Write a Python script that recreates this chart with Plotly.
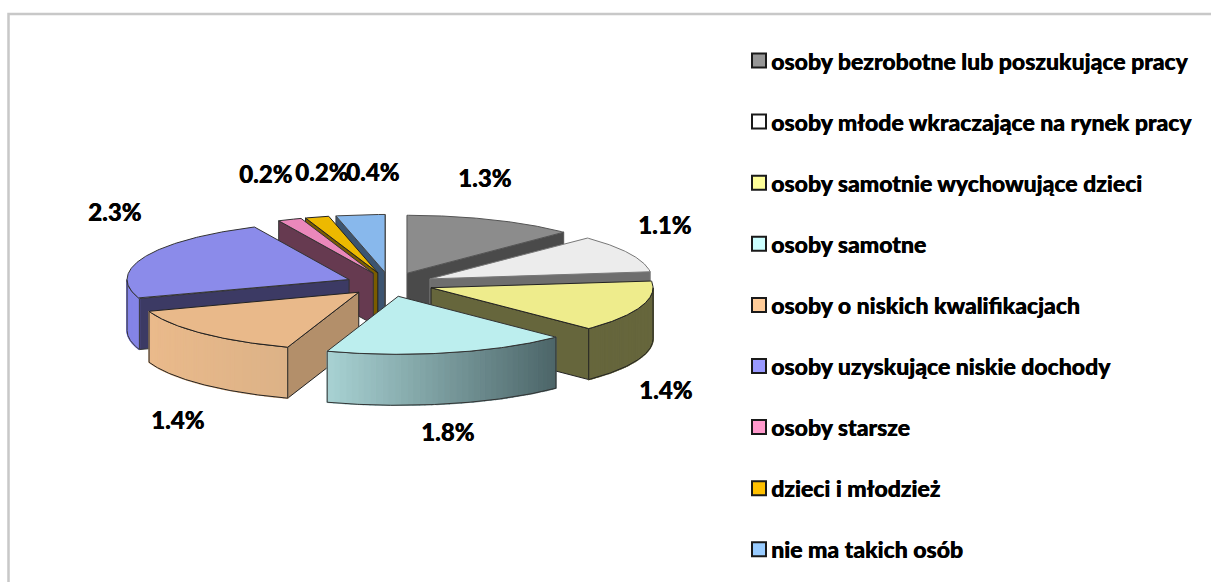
import numpy as np
import plotly.graph_objects as go

categories = ["osoby bezrobotne lub poszukujące pracy", "osoby młode wkraczające na rynek pracy",
              "osoby samotnie wychowujące dzieci", "osoby samotne", "osoby o niskich kwalifikacjach",
              "osoby uzyskujące niskie dochody", "osoby starsze", "dzieci i młodzież", "nie ma takich osób"]
# slice sizes
values = [1.30, 1.10, 1.50, 1.85, 1.51, 2.43, 0.18, 0.18, 0.37]
# printed data labels
value_labels = ["1.3%", "1.1%", "1.4%", "1.8%", "1.4%", "2.3%", "0.2%", "0.2%", "0.4%"]

top_colors = ["#8c8c8c", "#ececec", "#eeec8c", "#bceeee", "#e9b98a", "#8b8bea", "#ea88bb", "#edb900", "#88b8ec"]
cut_colors = ["#4a4a4a", "#6e6e6e", "#66663c", "#4d6668", "#b38f6a", "#3c3a64", "#663a50", "#7a5c00", "#3c5470"]
side_left = ["#8c8c8c", "#ececec", "#66663c", "#a8d2d3", "#eaba8b", "#8585e6", "#ea88bb", "#edb900", "#88b8ec"]
side_right = ["#8c8c8c", "#ececec", "#66663c", "#4c6568", "#dcb287", "#8585e6", "#ea88bb", "#edb900", "#88b8ec"]
edge_colors = ["#555555", "#777777", "#222222", "#333333", "#222222", "#333333", "#333333", "#222222", "#444444"]
legend_colors = ["#969696", "#ffffff", "#ffff99", "#ccffff", "#ffcc99", "#9999ff", "#ff99cc", "#ffc000", "#99ccff"]
draw_order = [0, 1, 2, 8, 7, 6, 5, 4, 3]

CX, CY, RX, RY, H, EXPLODE = 390, 284, 222, 58, 51, 0.2
NUDGE = {2: (-1, 0), 3: (-2, 1)}
LABEL_XY = [(484, 177), (664, 224), (665, 389), (447, 431), (177, 419), (114, 211), (265, 173), (321, 171), (372, 171)]
LEG_X, LEG_Y0, LEG_DY = 759, 60.5, 61.1
FONT = "Lato"
FAUX_BOLD = "0.4px 0 0 #000000"

def hex2rgb(h):
    return np.array([int(h[i:i + 2], 16) for i in (1, 3, 5)], float)

def mix(a, b, t):
    c = hex2rgb(a) * (1 - t) + hex2rgb(b) * t
    return "rgb(%d,%d,%d)" % tuple(c.round())

fig = go.Figure()

def poly(x, y, fill, line=None, width=1.0):
    fig.add_trace(go.Scatter(x=list(x) + [x[0]], y=list(y) + [y[0]], mode="lines", fill="toself",
                             fillcolor=fill, line=dict(color=line or fill, width=width),
                             hoverinfo="skip", showlegend=False))

shares = np.array(values) / sum(values) * 2 * np.pi
ends = np.cumsum(shares)
starts = ends - shares

def solid(i):
    a, b = starts[i], ends[i]
    mid = (a + b) / 2
    dx, dy = NUDGE.get(i, (0, 0))
    ax = CX + EXPLODE * RX * np.sin(mid) + dx
    ay = CY - EXPLODE * RY * np.cos(mid) + dy
    pt = lambda t: (ax + RX * np.sin(t), ay - RY * np.cos(t))
    edge = edge_colors[i]
    # visible radial cuts
    for t, vis in ((a, np.sin(a) < 0), (b, np.sin(b) > 0)):
        if vis:
            px, py = pt(t)
            poly([ax, px, px, ax], [ay, py, py + H, ay + H], cut_colors[i], edge)
    # visible outer wall (front half of the rim), shaded across its width
    ts = np.linspace(a, b, 181)
    ts = ts[np.cos(ts) < 0]
    if len(ts) > 1:
        n = 40
        idx = np.linspace(0, len(ts) - 1, n + 1).astype(int)
        xs = [pt(t)[0] for t in ts]
        lo, hi = min(xs), max(xs)
        for j in range(n):
            seg = ts[idx[j]:idx[j + 1] + 1]
            sx = [pt(t)[0] for t in seg]
            sy = [pt(t)[1] for t in seg]
            col = mix(side_left[i], side_right[i], (np.mean(sx) - lo) / max(hi - lo, 1))
            poly(sx + sx[::-1], sy + [v + H for v in sy[::-1]], col, col, 1.4)
        sx = [pt(t)[0] for t in ts]
        sy = [pt(t)[1] for t in ts]
        fig.add_trace(go.Scatter(x=sx + sx[::-1] + [sx[0]],
                                 y=sy + [v + H for v in sy[::-1]] + [sy[0]], mode="lines",
                                 line=dict(color=edge, width=1), hoverinfo="skip", showlegend=False))
    # top
    tt = np.linspace(a, b, 121)
    poly([ax] + [pt(t)[0] for t in tt], [ay] + [pt(t)[1] for t in tt], top_colors[i], edge)

for i in draw_order:
    solid(i)

# legend keys
leg_y = [LEG_Y0 + k * LEG_DY for k in range(len(categories))]
fig.add_trace(go.Scatter(x=[LEG_X] * len(categories), y=leg_y, mode="markers", hoverinfo="skip", showlegend=False,
                         marker=dict(symbol="square", size=14, color=legend_colors,
                                     line=dict(color="#1a1a1a", width=2))))

ann = []
for k, c in enumerate(categories):
    ann.append(dict(x=LEG_X + 9.5, y=leg_y[k], text=c, showarrow=False, xanchor="left", yanchor="middle",
                    font=dict(family=FONT, size=23, color="#000000", weight=900, shadow=FAUX_BOLD)))
for (x, y), t in zip(LABEL_XY, value_labels):
    ann.append(dict(x=x, y=y, text=t, showarrow=False, xanchor="center", yanchor="middle",
                    font=dict(family=FONT, size=24, color="#000000", weight=900, shadow=FAUX_BOLD)))

fig.update_layout(
    width=1211, height=582, margin=dict(l=0, r=0, t=0, b=0), paper_bgcolor="white", plot_bgcolor="white",
    xaxis=dict(range=[0, 1211], visible=False, fixedrange=True),
    yaxis=dict(range=[582, 0], visible=False, fixedrange=True),
    annotations=ann,
    shapes=[dict(type="rect", xref="x", yref="y", x0=8.5, x1=1230, y0=14, y1=600, fillcolor="rgba(0,0,0,0)",
                 line=dict(color="#c8c8c8", width=2.5), layer="below")],
)
fig.write_html("out.html", config={"displayModeBar": False},
               post_script="document.body.style.margin='0';")
